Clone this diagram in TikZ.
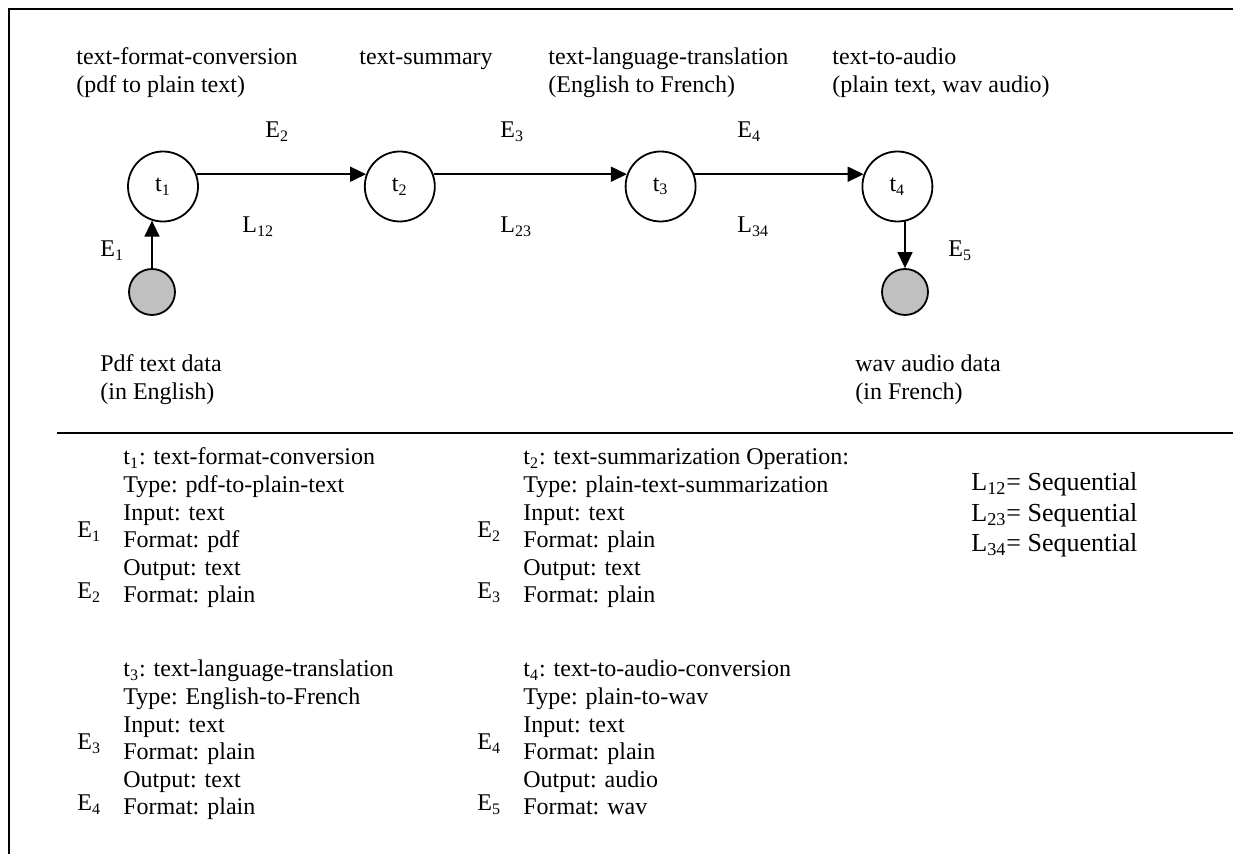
\documentclass[tikz,border=0pt]{standalone}
\usepackage{fontspec}
\setmainfont{Liberation Serif}
\usepackage{tikz}
\usetikzlibrary{arrows.meta, positioning}
\definecolor{silvergray}{RGB}{192,192,192}
\tikzset{
  task/.style={circle, draw, line width=0.9pt, minimum size=35pt,
               inner sep=0pt, font=\fontsize{12}{13.8}\selectfont},
  datum/.style={circle, draw, line width=0.9pt, fill=silvergray,
                minimum size=23pt, inner sep=0pt},
  lbl/.style={inner sep=0pt, anchor=base west, align=left,
              font=\fontsize{12}{13.8}\selectfont},
  arr/.style={-{Triangle[length=8pt, width=7.5pt]}, line width=0.8pt},
  rule/.style={line width=1pt}
}

\begin{document}
\begin{tikzpicture}[x=0.5pt, y=-0.5pt]
  \useasboundingbox (0,0) rectangle (1233,854);

  % Frame and divider
  \draw[rule] (9,854) -- (9,9) -- (1233,9);
  \draw[rule] (57,433) -- (1233,433);

  % Task chain
  \node[task] (t1) at (163,186.5) {t\textsubscript{1}};
  \node[task, right=82.5pt of t1] (t2) {t\textsubscript{2}};
  \node[task, right=94.5pt of t2] (t3) {t\textsubscript{3}};
  \node[task, right=82.5pt of t3] (t4) {t\textsubscript{4}};

  % Source and sink data
  \node[datum] (src) at (152,292) {};
  \node[datum] (snk) at (905,292) {};

  % Operation names (multi-line nodes sit on their last baseline)
  \node[lbl] (n1) at (76,92.6)  {text-format-conversion\\(pdf to plain text)};
  \node[lbl] (n2) at (359,65)   {text-summary};
  \node[lbl] (n3) at (548,92.6) {text-language-translation\\(English to French)};
  \node[lbl] (n4) at (832,92.6) {text-to-audio\\(plain text, wav audio)};

  % Edge and link labels
  \node[lbl] (le2) at (265,138) {E\textsubscript{2}};
  \node[lbl] (le3) at (500,138) {E\textsubscript{3}};
  \node[lbl] (le4) at (737,138) {E\textsubscript{4}};
  \node[lbl] (l12) at (242,233) {L\textsubscript{12}};
  \node[lbl] (l23) at (500,233) {L\textsubscript{23}};
  \node[lbl] (l34) at (737,233) {L\textsubscript{34}};
  \node[lbl] (le1) at (100,257) {E\textsubscript{1}};
  \node[lbl] (le5) at (948,257) {E\textsubscript{5}};

  \node[lbl] (dsrc) at (100,399.6) {Pdf text data\\(in English)};
  \node[lbl] (dsnk) at (855,399.6) {wav audio data\\(in French)};

  % Arrows
  \draw[arr] (src.north) -- (src.north |- t1.252);
  \draw[arr] (t1.20) -- (t2.160);
  \draw[arr] (t2.20) -- (t3.160);
  \draw[arr] (t3.20) -- (t4.160);
  \draw[arr] (snk.north |- t4.292) -- (snk.north);

  % Operation details
  \node[lbl] (d1) at (123,603) {t\textsubscript{1}: text-format-conversion\\Type: pdf-to-plain-text\\Input: text\\Format: pdf\\Output: text\\Format: plain};
  \node[lbl] (d1a) at (77,538) {E\textsubscript{1}};
  \node[lbl] (d1b) at (77,599) {E\textsubscript{2}};

  \node[lbl] (d2) at (523,603) {t\textsubscript{2}: text-summarization Operation:\\Type: plain-text-summarization\\Input: text\\Format: plain\\Output: text\\Format: plain};
  \node[lbl] (d2a) at (477,538) {E\textsubscript{2}};
  \node[lbl] (d2b) at (477,599) {E\textsubscript{3}};

  \node[lbl] (d3) at (123,815) {t\textsubscript{3}: text-language-translation\\Type: English-to-French\\Input: text\\Format: plain\\Output: text\\Format: plain};
  \node[lbl] (d3a) at (77,750) {E\textsubscript{3}};
  \node[lbl] (d3b) at (77,811) {E\textsubscript{4}};

  \node[lbl] (d4) at (523,815) {t\textsubscript{4}: text-to-audio-conversion\\Type: plain-to-wav\\Input: text\\Format: plain\\Output: audio\\Format: wav};
  \node[lbl] (d4a) at (477,750) {E\textsubscript{4}};
  \node[lbl] (d4b) at (477,811) {E\textsubscript{5}};

  % Link types
  \node[lbl, font=\fontsize{13}{15.25}\selectfont] (links) at (971,552)
    {L\textsubscript{12}= Sequential\\L\textsubscript{23}= Sequential\\L\textsubscript{34}= Sequential};

\end{tikzpicture}
\end{document}
